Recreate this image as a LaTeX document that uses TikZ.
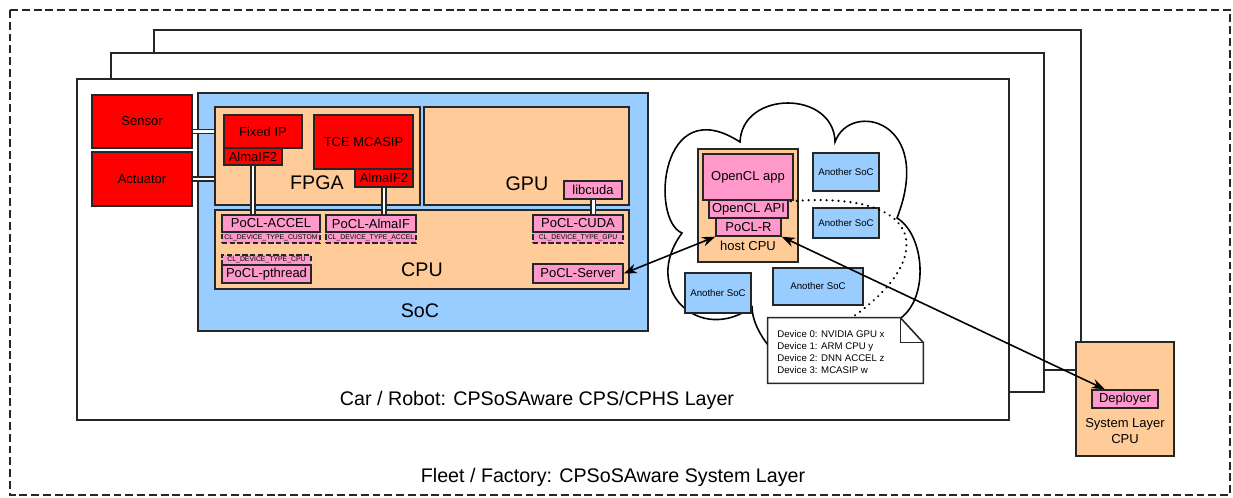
\documentclass[tikz,border=0pt]{standalone}
\usepackage{fontspec}
\setmainfont{Liberation Sans}
\usetikzlibrary{arrows.meta,calc}

\definecolor{hwred}{HTML}{FF0000}
\definecolor{socblue}{HTML}{99CCFF}
\definecolor{peach}{HTML}{FFCC99}
\definecolor{swpink}{HTML}{FF99CC}
\definecolor{edge}{HTML}{262626}

\newcommand{\lblbig}{\fontsize{11.2}{13.5}\selectfont}
\newcommand{\lblmid}{\fontsize{7.4}{9.6}\selectfont}
\newcommand{\lblsmall}{\fontsize{5.5}{6.8}\selectfont}
\newcommand{\lbltiny}{\fontsize{3.9}{4.5}\selectfont}

\tikzset{
  span/.style args={#1/#2/#3/#4}{minimum width={(#3-#1)*0.2mm}, minimum height={(#4-#2)*0.2mm}, at={({(#1+#3)/2},{(#2+#4)/2})}},
  box/.style={draw=edge, line width=0.8pt, inner sep=0pt, text=black, font=\lblmid},
  hw/.style={box, fill=hwred},
  sw/.style={box, fill=swpink},
  unit/.style={box, fill=peach},
  soc/.style={box, fill=socblue, font=\lblsmall},
  tag/.style={draw=edge, fill=swpink, line width=1.1pt, dash pattern=on 3pt off 1.4pt, inner sep=0pt, font=\lbltiny},
  lbl/.style={inner sep=0pt, text=black, font=\lblbig},
  layer/.style={draw=edge, fill=white, line width=0.9pt},
  bus/.style={draw=edge, line width=0.6pt, double=white, double distance=1.7pt},
  conn/.style={draw=black, line width=0.9pt, {Stealth[length=7.5pt,width=5.5pt]}-{Stealth[length=7.5pt,width=5.5pt]}},
  reach/.style={draw=black, line width=1.3pt, dash pattern=on 0.1pt off 3.3pt, line cap=round},
}

\begin{document}
\begin{tikzpicture}[x=0.02cm, y=-0.02cm]
\useasboundingbox (0,0) rectangle (1233,497);

% system layer frame
\draw[draw=edge, line width=0.8pt, dash pattern=on 4.5pt off 2.2pt] (10,10) rectangle (1230,495);
\node[lbl] (fleet) at (613,477) {Fleet / Factory: CPSoSAware System Layer};

% stacked CPS layers
\draw[layer] (154,30) rectangle (1081,370);
\draw[layer] (111,53) rectangle (1044,392);
\draw[layer] (77,79) rectangle (1009,420);
\node[lbl] (car) at (537,400) {Car / Robot: CPSoSAware CPS/CPHS Layer};

% sensors and actuators
\node[hw, span=92/95/192/148] (sensor) {Sensor};
\node[hw, span=92/152/192/206] (actuator) {Actuator};

% SoC
\node[soc, span=198/93/648/331] (soc) {};
\node[unit, span=215/107/420/205] (fpga) {};
\node[unit, span=424/107/629/205] (gpu) {};
\node[unit, span=215/210/629/289] (cpu) {};
\node[lbl] at (317,183) {FPGA};
\node[lbl] at (527,184) {GPU};
\node[lbl] at (422,270) {CPU};
\node[lbl] at (420,311) {SoC};

\node[hw, span=224/115/302/148] (fixip) {Fixed IP};
\node[hw, span=224/148/282/165] (alma1) {AlmaIF2};
\node[hw, span=314/115/413/169] (tce) {TCE MCASIP};
\node[hw, span=355/169/413/187] (alma2) {AlmaIF2};
\node[sw, span=564/181/622/199] (libcuda) {libcuda};

\node[tag, span=222/232/320/243] (accelt) {CL\_DEVICE\_TYPE\_CUSTOM};
\node[tag, span=326/232/416/243] (almaift) {CL\_DEVICE\_TYPE\_ACCEL};
\node[tag, span=222/255/311/265] (pthreadt) {CL\_DEVICE\_TYPE\_CPU};
\node[tag, span=533/232/623/243] (cudat) {CL\_DEVICE\_TYPE\_GPU};
\node[sw, span=222/215/320/232] (accel) {PoCL-ACCEL};
\node[sw, span=326/215/416/232] (almaif) {PoCL-AlmaIF};
\node[sw, span=222/265/311/283] (pthread) {PoCL-pthread};
\node[sw, span=533/215/623/232] (cuda) {PoCL-CUDA};
\node[sw, span=533/264/623/283] (server) {PoCL-Server};

% on-chip links
\draw[bus] (sensor.east |- fixip.center) -- (fpga.west |- fixip.center);
\draw[bus] (actuator.east) -- (fpga.west |- actuator.east);
\draw[bus] (alma1.south) -- (alma1.south |- accel.north);
\draw[bus] (alma2.south) -- (alma2.south |- almaif.north);
\draw[bus] (libcuda.south) -- (libcuda.south |- cuda.north);

% edge cloud
\draw[draw=black, fill=white, line width=0.9pt]
  (740,142) .. controls (742,90) and (834,90) .. (835,142)
  .. controls (850,100) and (935,120) .. (897,218)
  .. controls (925,235) and (930,300) .. (898,320)
  .. controls (880,350) and (790,365) .. (768,345)
  .. controls (760,335) and (752,320) .. (752,307)
  .. controls (700,345) and (640,290) .. (682,233)
  .. controls (650,220) and (660,90) .. (740,142) -- cycle;

\node[unit, span=698/149/798/262] (host) {};
\node[sw, span=703/154/793/200] (app) {OpenCL app};
\node[sw, span=709/200/788/218] (api) {OpenCL API};
\node[sw, span=716/218/781/236] (pocr) {PoCL-R};
\node[inner sep=0pt, font=\lblmid] (hostlbl) at (748,246) {host CPU};

\node[soc, span=813/153/879/191] (soc1) {Another SoC};
\node[soc, span=813/208/879/238] (soc2) {Another SoC};
\node[soc, span=685/273/751/313] (soc3) {Another SoC};
\node[soc, span=773/268/863/305] (soc4) {Another SoC};

% device list note
\node[inner sep=0pt, span=768/318/923/383] (note) {};
\draw[draw=edge, fill=white, line width=0.9pt]
  (note.north west) -- ($(note.north east)+(-23,0)$) -- ($(note.north east)+(0,25)$)
  -- (note.south east) -- (note.south west) -- cycle;
\draw[draw=edge, line width=0.9pt]
  ($(note.north east)+(-23,0)$) -- ($(note.north east)+(-23,25)$) -- ($(note.north east)+(0,25)$);
\node[anchor=north west, align=left, inner sep=0pt, font=\lblsmall] (notetext) at (777,330)
  {Device 0: NVIDIA GPU x\\Device 1: ARM CPU y\\Device 2: DNN ACCEL z\\Device 3: MCASIP w};
\draw[reach] ($(api.north east)+(2,2)$) .. controls (930,190) and (935,260) .. ($(note.north west)!0.54!(note.north east)$);

% system layer CPU
\node[unit, span=1076/342/1174/456] (sys) {};
\node[sw, span=1092/390/1158/408] (deployer) {Deployer};
\node[inner sep=0pt, align=center, font=\lblmid] (syslbl) at (1125,431) {System Layer\\CPU};

% remote connections
\draw[conn] (server.east) -- (pocr.south west);
\draw[conn] (pocr.south east) -- ($(deployer.north west)!0.2!(deployer.north east)$);
\end{tikzpicture}
\end{document}
